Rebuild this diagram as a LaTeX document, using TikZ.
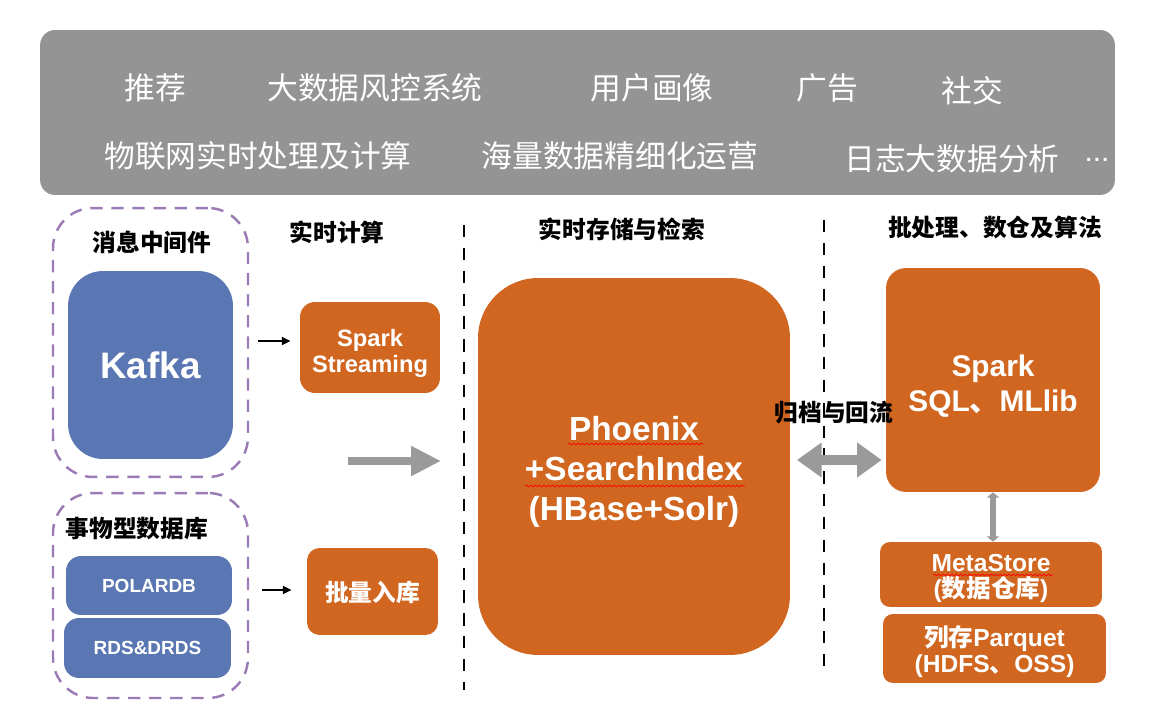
\documentclass[tikz,border=0pt]{standalone}
\usepackage{fontspec}
\setmainfont{Liberation Sans}
\newfontfamily\cjk{Noto Sans CJK SC}
\usetikzlibrary{arrows.meta,decorations.pathmorphing}
\definecolor{StackOrange}{HTML}{D0661F}
\definecolor{StackBlue}{HTML}{5B77B3}
\definecolor{StackGray}{HTML}{949494}
\definecolor{StackPurple}{HTML}{9B7BB5}
\definecolor{ArrowGray}{HTML}{9A9A9A}
\tikzset{
  banner/.style={fill=StackGray,rounded corners=0.3cm,inner sep=0pt},
  topic/.style={text=white,font=\cjk\fontsize{17.5}{20}\selectfont,inner sep=0pt},
  headline/.style={font=\cjk\bfseries\fontsize{13.5}{16}\selectfont,inner sep=0pt},
  orangebox/.style={fill=StackOrange,inner sep=0pt},
  boxtext/.style={text=white,align=center,inner sep=0pt,font=\bfseries\fontsize{14}{14.5}\selectfont},
  bluebox/.style={fill=StackBlue,text=white,inner sep=0pt,rounded corners=0.3cm,font=\bfseries\fontsize{10.8}{13}\selectfont},
  groupbox/.style={draw=StackPurple,line width=1.4pt,dash pattern=on 7pt off 5pt,rounded corners=0.8cm,inner sep=0pt},
  thinarrow/.style={-{Triangle[length=5pt,width=4.5pt]},line width=1.1pt},
  fatarrow/.style={ArrowGray,line width=4.5pt,-{Triangle[length=17pt,width=16pt]}},
  fatboth/.style={ArrowGray,line width=5.7pt,{Triangle[length=14pt,width=19pt]}-{Triangle[length=14pt,width=19pt]}},
  linkbar/.style={ArrowGray,line width=3.4pt,{Triangle[length=3pt,width=7pt]}-{Triangle[length=3pt,width=7pt]}},
  divider/.style={line width=0.9pt,dash pattern=on 7pt off 6pt},
  spell/.style={red,line width=0.4pt,decorate,decoration={snake,amplitude=0.5pt,segment length=2.5pt}}
}

\begin{document}
\begin{tikzpicture}[x=0.02cm,y=-0.02cm]
  \useasboundingbox (0,0) rectangle (1160,716);
  % scenarios on top
  \node[banner,minimum width=21.5cm,minimum height=3.3cm] (banner) at (577.5,112.5) {};
  \node[topic] (rec) at (155,88) {推荐}; \node[topic] (risk) at (375,88) {大数据风控系统};
  \node[topic] (profile) at (652,88) {用户画像}; \node[topic] (ads) at (827,88) {广告}; \node[topic] (social) at (972,91) {社交};
  \node[topic] (iot) at (258,156) {物联网实时处理及计算}; \node[topic] (ops) at (620,156) {海量数据精细化运营};
  \node[topic] (logs) at (952,159) {日志大数据分析}; \node[topic,font=\fontsize{17}{20}\selectfont] (more) at (1097,160) {...};
  % sources
  \node[groupbox,minimum width=3.9cm,minimum height=5.38cm] (mq) at (150.5,342.5) {};
  \node[headline] (mqlabel) at (152,242) {消息中间件};
  \node[bluebox,rounded corners=0.7cm,minimum width=3.3cm,minimum height=3.76cm,font=\bfseries\fontsize{21}{24}\selectfont] (kafka) at (150.5,365) {Kafka};
  \node[groupbox,minimum width=3.9cm,minimum height=4.1cm] (db) at (150.5,595.5) {};
  \node[headline] (dblabel) at (137,528) {事物型数据库};
  \node[bluebox,minimum width=3.32cm,minimum height=1.18cm] (polardb) at (149,585.5) {POLARDB};
  \node[bluebox,minimum width=3.34cm,minimum height=1.2cm] (rds) at (147.5,648) {RDS\&DRDS};
  % real-time compute
  \node[headline] (rtlabel) at (337,232) {实时计算};
  \node[orangebox,rounded corners=0.3cm,minimum width=2.8cm,minimum height=1.82cm] (sstream) at (370,347.5) {};
  \node[boxtext,font=\bfseries\fontsize{13.5}{15}\selectfont] (sstreamtext) at ([yshift=-0.12cm]sstream) {Spark\\Streaming};
  \node[orangebox,rounded corners=0.25cm,minimum width=2.62cm,minimum height=1.74cm] (batch) at (372.5,591.5) {};
  \node[boxtext,font=\cjk\bfseries\fontsize{13.5}{15}\selectfont] (batchtext) at ([yshift=-0.02cm]batch) {批量入库};
  \coordinate (a1) at (258,341); \coordinate (a2) at (262,590); \coordinate (g1) at (348,461);
  \draw[thinarrow,shorten >=0.18cm] (a1) -- (a1 -| sstream.west);
  \draw[thinarrow,shorten >=0.3cm] (a2) -- (a2 -| batch.west);
  \draw[fatarrow,shorten >=0.74cm] (g1) -- (g1 -| 478,0);
  \draw[divider] (464,225) -- (464,690);
  % storage
  \node[headline] (storelabel) at (622,229) {实时存储与检索};
  \node[orangebox,rounded corners=1.2cm,minimum width=6.24cm,minimum height=7.54cm] (phoenix) at (634,466.5) {};
  \node[boxtext,font=\bfseries\fontsize{19}{22.7}\selectfont] (phoenixtext) at ([yshift=-0.1cm]phoenix) {Phoenix\\+SearchIndex\\(HBase+Solr)};
  \draw[spell] (568,444) -- (703,444); \draw[spell] (525,486) -- (745,486);
  \draw[divider] (824,220) -- (824,668);
  \coordinate (g2) at (790,460);
  % batch and warehouse
  \node[headline] (batchlabel) at (995,227) {批处理、数仓及算法};
  \node[orangebox,rounded corners=0.4cm,minimum width=4.28cm,minimum height=4.48cm] (sparksql) at (993,380) {};
  \node[boxtext,font=\bfseries\fontsize{17}{20}\selectfont] (sparksqltext) at ([yshift=-0.12cm]sparksql) {Spark\\SQL{\cjk 、}MLlib};
  \node[orangebox,rounded corners=0.2cm,minimum width=4.44cm,minimum height=1.3cm] (metastore) at (991,574.5) {};
  \node[boxtext] (metastoretext) at ([yshift=-0.08cm]metastore) {MetaStore\\({\cjk 数据仓库})};
  \draw[spell] (933,575) -- (1053,575);
  \node[orangebox,rounded corners=0.2cm,minimum width=4.46cm,minimum height=1.38cm] (parquet) at (994.5,648.5) {};
  \node[boxtext] (parquettext) at ([yshift=-0.06cm]parquet) {{\cjk 列存}Parquet\\(HDFS{\cjk 、}OSS)};
  \draw[fatboth,shorten <=0.14cm,shorten >=0.08cm] (g2) -- (g2 -| sparksql.west);
  \draw[linkbar] (sparksql.south) -- (sparksql.south |- metastore.north);
  \node[headline] (archive) at (834,413) {归档与回流};
\end{tikzpicture}
\end{document}
